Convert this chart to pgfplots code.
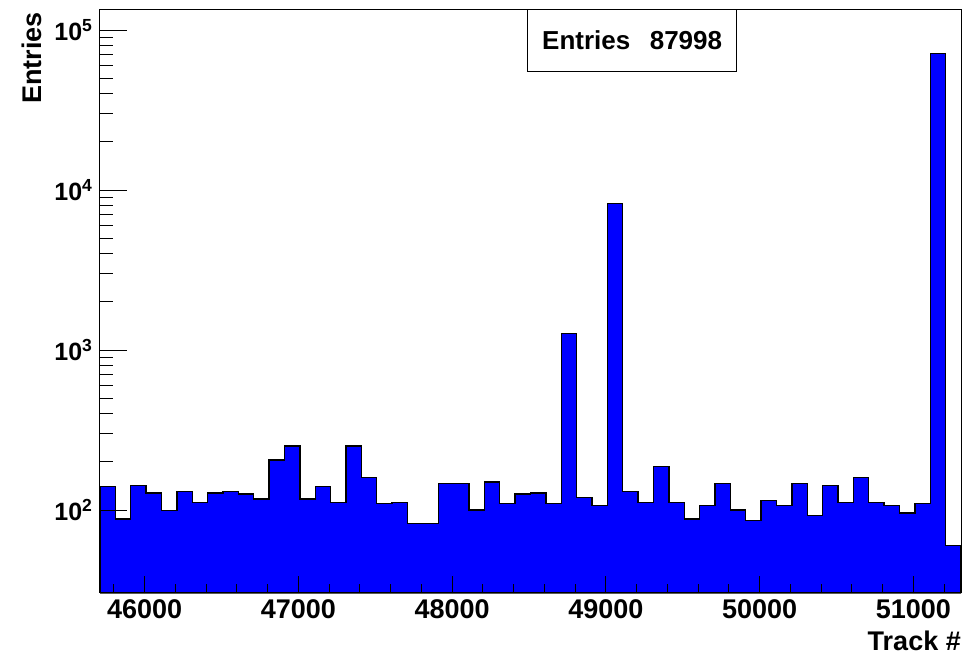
\documentclass[border=0pt]{standalone}
\usepackage{fontspec}
\setmainfont{Liberation Sans}
\usepackage{pgfplots}
\pgfplotsset{compat=1.18}
\newcommand\ytickfont{\fontsize{25bp}{30bp}\selectfont\bfseries}
\newcommand\xtickfont{\fontsize{27bp}{32bp}\selectfont\bfseries}
\newcommand\titlefont{\fontsize{27bp}{32bp}\selectfont\bfseries}
\newcommand\statfont{\fontsize{26bp}{31bp}\selectfont\bfseries}
\begin{document}
\begin{tikzpicture}
\begin{axis}[
  at={(0,0)}, anchor=south west,
  scale only axis, width=861bp, height=583bp,
  xmin=45710, xmax=51310,
  ymode=log, ymin=30.3, ymax=1.334e5,
  xtick=\empty, scaled x ticks=false,
  ytick={100,1000,10000,100000},
  yticklabels={10\textsuperscript{2},10\textsuperscript{3},10\textsuperscript{4},10\textsuperscript{5}},
  ytick pos=left, tick align=inside,
  major tick length=27bp, minor tick length=13bp,
  tick style={black, line width=1bp},
  yticklabel style={font=\ytickfont, xshift=-4bp},
  axis line style={line width=1bp},
  axis on top,
  ylabel={Entries},
  ylabel style={font=\titlefont, at={(axis description cs:-0.0674,0.9966)}, anchor=base east, inner sep=0pt, rotate=0},
  xlabel={Track \#},
  xlabel style={font=\titlefont, at={(axis description cs:1,0)}, anchor=base east, yshift=-58bp, inner sep=0pt},
]
\addplot[const plot mark left, fill={rgb,255:red,0;green,0;blue,255}, draw=black, line width=1.3bp] coordinates {
(45710,30.3)
(45710,140) (45810,88) (45910,143) (46010,128) (46110,99)
(46210,131) (46310,112) (46410,128) (46510,131) (46610,126)
(46710,117) (46810,205) (46910,251) (47010,117) (47110,140)
(47210,112) (47310,251) (47410,160) (47510,110) (47610,112)
(47710,82) (47810,82) (47910,147) (48010,147) (48110,100)
(48210,150) (48310,110) (48410,126) (48510,128) (48610,110)
(48710,1271) (48810,120) (48910,107) (49010,8263) (49110,131)
(49210,112) (49310,188) (49410,112) (49510,88) (49610,107)
(49710,147) (49810,100) (49910,86) (50010,115) (50110,107)
(50210,147) (50310,92) (50410,143) (50510,112) (50610,160)
(50710,112) (50810,107) (50910,96) (51010,110) (51110,71450)
(51210,60) (51310,60)
(51310,30.3)
} -- cycle;
\node[draw=black, line width=1bp, fill=white, minimum width=209bp, minimum height=63.4bp, inner sep=0pt, font=\statfont]
  at (rel axis cs:0.6181,0.9485) {Entries\hspace{0.75em}87998};
\end{axis}
\begin{axis}[
  at={(0,0)}, anchor=south west,
  scale only axis, width=861bp, height=583bp,
  xmin=45710, xmax=51310, ymin=0, ymax=1,
  hide y axis, scaled x ticks=false,
  xtick={46000,47000,48000,49000,50000,51000},
  xticklabels={46000,47000,48000,49000,50000,51000},
  minor xtick={45800,46000,...,51200},
  xtick pos=bottom, tick align=inside,
  major tick length=17bp, minor tick length=9bp,
  tick style={black, line width=1bp},
  xticklabel style={font=\xtickfont, yshift=-3bp},
  axis line style={line width=1bp},
]
\end{axis}
\pgfresetboundingbox
\useasboundingbox (-100bp,-62bp) rectangle (871bp,593bp);
\end{tikzpicture}
\end{document}
